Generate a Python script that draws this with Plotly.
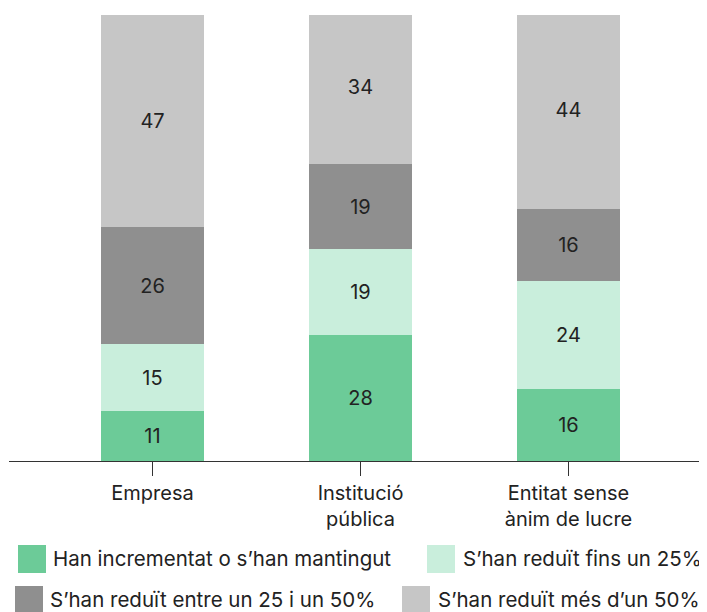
import plotly.graph_objects as go

categories = ["Empresa", "Institució<br>pública", "Entitat sense<br>ànim de lucre"]
series_names = [
    "Han incrementat o s’han mantingut",
    "S’han reduït fins un 25%",
    "S’han reduït entre un 25 i un 50%",
    "S’han reduït més d’un 50%",
]
incrementat = [11, 28, 16]
fins_25 = [15, 19, 24]
entre_25_50 = [26, 19, 16]
mes_50 = [47, 34, 44]
colors = ["#6CCB98", "#C9EEDC", "#8F8F8F", "#C6C6C6"]

values = [incrementat, fins_25, entre_25_50, mes_50]

OFF = 8  # page body margin
W, H = 707 - OFF, 612 - OFF
ML, MR, MT, MB = 9 - OFF, 0, 15 - OFF, 612 - 461
PW, PH = W - ML - MR, H - MT - MB
FONT = "Inter"
FS = 20
FS_LEG = 20.5
TXT = "#222222"

fig = go.Figure()
x_idx = list(range(len(categories)))
for name, vals, col in zip(series_names, values, colors):
    fig.add_trace(go.Bar(
        x=x_idx, y=vals, name=name, marker=dict(color=col, line=dict(width=0)),
        width=0.495, text=vals, texttemplate="%{y}", textposition="inside",
        insidetextanchor="middle", textangle=0,
        textfont=dict(family=FONT, size=FS, color=TXT), showlegend=False,
        hoverinfo="skip",
    ))

def px2x(px):
    return (px - OFF - ML) / PW

def px2y(py):
    return (MT + PH - (py - OFF)) / PH

shapes = []
annotations = []
legend_pos = [(18, 559, 52), (427, 559, 462), (15, 600, 49), (402, 600, 437)]
for (sx, cy, tx), name, col in zip(legend_pos, series_names, colors):
    shapes.append(dict(type="rect", xref="paper", yref="paper",
                       x0=px2x(sx), x1=px2x(sx + 28), y0=px2y(cy + 14), y1=px2y(cy - 14),
                       fillcolor=col, line=dict(width=0), layer="above"))
    annotations.append(dict(xref="paper", yref="paper", x=px2x(tx - 1), y=px2y(cy - 1),
                            text=name, showarrow=False, xanchor="left", yanchor="middle",
                            font=dict(family=FONT, size=FS_LEG, color=TXT)))

fig.update_layout(
    barmode="stack",
    width=W, height=H,
    margin=dict(l=ML, r=MR, t=MT, b=MB, pad=0),
    paper_bgcolor="white", plot_bgcolor="white",
    font=dict(family=FONT, size=FS, color=TXT),
    xaxis=dict(range=[-0.69, 2.666], tickmode="array", tickvals=x_idx, ticktext=categories,
               showgrid=False, zeroline=False, showline=True, linecolor="#333333", linewidth=1,
               ticks="outside", ticklen=14, tickcolor="#333333", tickwidth=1,
               tickfont=dict(family=FONT, size=FS, color=TXT)),
    yaxis=dict(range=[0, 99], visible=False, showgrid=False, zeroline=False),
    shapes=shapes, annotations=annotations,
    bargap=0,
)

fig.write_html("out.html")
